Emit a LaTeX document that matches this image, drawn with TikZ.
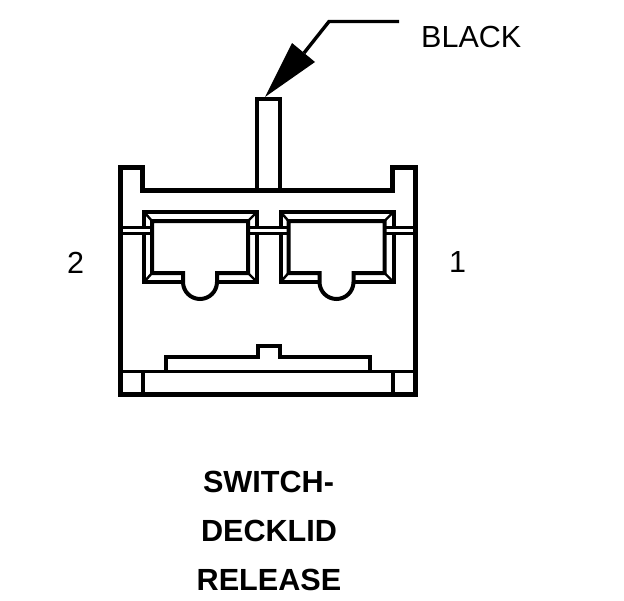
\documentclass[tikz,border=0pt]{standalone}
\usepackage{fontspec}
\setmainfont{Liberation Sans}
\tikzset{
  heavy/.style={line width=4.8pt,line join=miter,line cap=butt},
  mid/.style={line width=4pt,line join=miter,line cap=butt},
  thin3/.style={line width=3pt,line join=miter,line cap=butt},
  lbl/.style={inner sep=0pt,font=\fontsize{30.5}{30.5}\selectfont,text=black},
  title/.style={inner sep=0pt,font=\fontsize{30.6}{30.6}\selectfont\bfseries,text=black},
  cavity/.pic={
    \draw[mid] (183,282) -- (144,282) -- (144,212) -- (257,212) -- (257,282) -- (217,282);
    \draw[white,line width=2.4pt] (140,230.3) -- (148,230.3) (253,230.3) -- (261,230.3);
    \draw[mid] (183,273) -- (152,273) -- (152,221) -- (248,221) -- (248,273) -- (217,273) -- (217,282) arc[start angle=0,end angle=180,radius=17] -- cycle;
    \draw[line width=2.4pt] (145,213) -- (152,221) (256,213) -- (248,221) (145,281) -- (152,273) (256,281) -- (248,273);
  }
}
\begin{document}
\begin{tikzpicture}[x=1pt,y=-1pt]
\useasboundingbox (0,0) rectangle (624,600);
\fill[white] (0,0) rectangle (624,600);
% wire
\draw[mid] (257,190) -- (257,99) -- (279.5,99) -- (279.5,190);
% housing
\draw[heavy] (120.5,394.5) -- (120.5,167.5) -- (142.5,167.5) -- (142.5,190.5) -- (392.5,190.5) -- (392.5,167.5) -- (415.5,167.5) -- (415.5,394.5) -- cycle;
% cavities
\pic at (0,0) {cavity};
\pic at (136.5,0) {cavity};
% terminals
\draw[thin3] (123,227.5) -- (152,227.5) (123,233) -- (152,233);
\draw[thin3] (248,227.5) -- (289,227.5) (248,233) -- (289,233);
\draw[thin3] (384,227.5) -- (413,227.5) (384,233) -- (413,233);
% base
\draw[thin3] (123,371.5) -- (413,371.5);
\draw[mid] (143,371.5) -- (143,392) (393,371.5) -- (393,392);
\draw[mid] (166,371) -- (166,357) -- (257.5,357) -- (257.5,346) -- (279.5,346) -- (279.5,357) -- (369.5,357) -- (369.5,371);
% arrow
\coordinate (tip) at (265,97);
\coordinate (bend) at (329,21.5);
\coordinate (free) at (399,21.5);
\fill (tip) -- (292,43) -- (315,62) -- cycle;
\draw[line width=3.4pt,line join=miter] (304,53) -- (bend) -- (free);
% text
\node[lbl,anchor=west] (black) at (421,37) {BLACK};
\node[lbl] (two) at (75.5,262.5) {2};
\node[lbl] (one) at (457.5,262.5) {1};
\node[title] (t1) at (268.5,481.5) {SWITCH-};
\node[title] (t2) at (269,530.5) {DECKLID};
\node[title] (t3) at (269,580) {RELEASE};
\end{tikzpicture}
\end{document}
